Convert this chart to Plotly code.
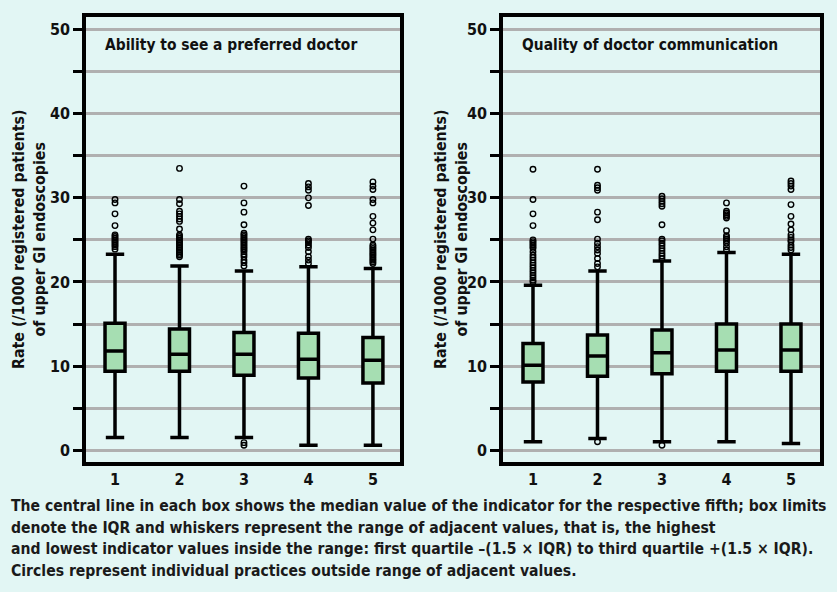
import plotly.graph_objects as go

categories = [1, 2, 3, 4, 5]
tick_labels = ["1", "2", "3", "4", "5"]

# Panel A: Ability to see a preferred doctor
a_q1 = [9.4, 9.4, 8.9, 8.6, 8.0]
a_med = [11.8, 11.4, 11.4, 10.8, 10.7]
a_q3 = [15.1, 14.4, 14.0, 13.9, 13.4]
a_low = [1.5, 1.5, 1.5, 0.6, 0.6]
a_high = [23.3, 21.9, 21.3, 21.8, 21.6]
a_out = [
    [29.8, 29.4, 28.1, 26.7, 25.6, 25.4, 25.2, 25.0, 24.8, 24.6, 24.4, 24.2, 23.9],
    [33.5, 29.8, 29.3, 28.4, 28.1, 27.8, 27.5, 27.2, 26.3, 25.6, 25.4, 25.2, 25.0,
     24.8, 24.6, 24.4, 24.2, 24.0, 23.8, 23.6, 23.4, 23.2, 23.0],
    [31.4, 29.4, 28.3, 26.8, 25.8, 25.6, 25.4, 25.2, 25.0, 24.8, 24.6, 24.4, 24.2,
     24.0, 23.8, 23.6, 23.3, 23.0, 22.6, 22.3, 21.9, 0.9, 0.6],
    [31.7, 31.3, 30.9, 30.0, 29.1, 25.1, 24.9, 24.7, 24.4, 24.1, 23.6, 23.0, 22.6, 22.2],
    [31.9, 31.4, 31.0, 29.8, 29.4, 27.8, 27.0, 26.2, 25.1, 24.4, 24.2, 24.0, 23.8,
     23.6, 23.4, 23.2, 23.0, 22.8, 22.6, 22.4, 22.2],
]

# Panel B: Quality of doctor communication
b_q1 = [8.1, 8.8, 9.1, 9.4, 9.4]
b_med = [10.1, 11.2, 11.6, 11.9, 11.9]
b_q3 = [12.7, 13.7, 14.3, 15.0, 15.0]
b_low = [1.0, 1.4, 1.0, 1.0, 0.8]
b_high = [19.6, 21.3, 22.5, 23.5, 23.3]
b_out = [
    [33.4, 29.8, 28.1, 26.7, 25.0, 24.8, 24.6, 24.4, 24.2, 24.0, 23.6, 23.2, 22.9,
     22.6, 22.3, 22.0, 21.7, 21.4, 21.1, 20.8, 20.5, 20.2, 20.0],
    [33.4, 31.5, 31.2, 30.9, 28.3, 27.4, 25.1, 24.6, 24.2, 23.8, 23.4, 22.8, 22.2, 21.8, 1.0],
    [30.2, 29.9, 29.6, 29.3, 29.0, 26.8, 25.1, 24.9, 24.6, 24.3, 24.0, 23.7, 23.4,
     23.1, 22.8, 0.6],
    [29.4, 28.4, 28.2, 28.0, 27.8, 27.6, 26.1, 25.5, 25.3, 25.1, 24.9, 24.6, 24.2, 23.8],
    [32.0, 31.7, 31.4, 31.0, 29.2, 27.8, 26.9, 26.2, 25.6, 25.3, 25.0, 24.8, 24.4,
     24.1, 23.8],
]

panel_titles = ["Ability to see a preferred doctor", "Quality of doctor communication"]
y_title = "Rate (/1000 registered patients)<br>of upper GI endoscopies"
caption_lines = [
    "The central line in each box shows the median value of the indicator for the respective fifth; box limits",
    "denote the IQR and whiskers represent the range of adjacent values, that is, the highest",
    "and lowest indicator values inside the range: first quartile \u2013(1.5 \u00d7 IQR) to third quartile +(1.5 \u00d7 IQR).",
    "Circles represent individual practices outside range of adjacent values.",
]

BG = "#e2f6f4"
BOXFILL = "#a6deb2"
GRID = "#b0b0b0"
FONT = "DejaVu Sans Condensed, sans-serif"

fig = go.Figure()

panels = [
    ("x", "y", a_q1, a_med, a_q3, a_low, a_high, a_out),
    ("x2", "y2", b_q1, b_med, b_q3, b_low, b_high, b_out),
]
for xa, ya, q1, med, q3, lo, hi, outs in panels:
    fig.add_trace(go.Box(
        x=categories, q1=q1, median=med, q3=q3, lowerfence=lo, upperfence=hi,
        boxpoints=False, fillcolor=BOXFILL, line=dict(color="black", width=3.5),
        width=0.31, whiskerwidth=0.92, xaxis=xa, yaxis=ya, showlegend=False,
    ))
    ox, oy = [], []
    for c, vals in zip(categories, outs):
        for v in vals:
            ox.append(c)
            oy.append(v)
    fig.add_trace(go.Scatter(
        x=ox, y=oy, mode="markers", xaxis=xa, yaxis=ya, showlegend=False,
        marker=dict(symbol="circle-open", size=5.5, color="black", line=dict(width=1.4, color="black")),
    ))

ytickvals = [0, 5, 10, 15, 20, 25, 30, 35, 40, 45, 50]
yticktext = [str(v) if v % 10 == 0 else "" for v in ytickvals]

yaxis_common = dict(
    range=[-1.4, 51.5], tickvals=ytickvals, ticktext=yticktext,
    showgrid=True, gridcolor=GRID, gridwidth=3, zeroline=False,
    showline=True, linecolor="black", linewidth=3.5, mirror=True,
    ticks="outside", ticklen=9, tickwidth=3, tickcolor="black",
    tickfont=dict(family=FONT, size=16, color="#111", weight="bold"),
    domain=[1 - 462 / 592, 1 - 17 / 592],
)
xaxis_common = dict(
    tickvals=categories, ticktext=tick_labels, showgrid=False, zeroline=False,
    showline=True, linecolor="black", linewidth=3.5, mirror=True, ticks="",
    tickfont=dict(family=FONT, size=16, color="#111", weight="bold"),
)

fig.update_layout(
    width=837, height=592,
    margin=dict(l=0, r=0, t=0, b=0),
    paper_bgcolor=BG, plot_bgcolor=BG,
    xaxis=dict(xaxis_common, range=[0.55, 5.42], domain=[86 / 837, 400 / 837], anchor="y"),
    yaxis=dict(yaxis_common, anchor="x"),
    xaxis2=dict(xaxis_common, range=[0.535, 5.45], domain=[503 / 837, 820 / 837], anchor="y2"),
    yaxis2=dict(yaxis_common, anchor="x2"),
)

annotations = []
for i, (xa, ya) in enumerate([("x", "y"), ("x2", "y2")]):
    annotations.append(dict(
        text=panel_titles[i], xref=xa + " domain", yref=ya + " domain",
        x=0.054, y=0.937, xanchor="left", yanchor="middle", showarrow=False,
        font=dict(family=FONT, size=15.4, color="#111", weight="bold"),
    ))
for xp in [29 / 837, 451 / 837]:
    annotations.append(dict(
        text=y_title, xref="paper", yref="paper", x=xp, y=1 - 240 / 592,
        xanchor="center", yanchor="middle", textangle=-90, showarrow=False,
        font=dict(family=FONT, size=15.8, color="#111", weight="bold"),
    ))
for line, yc in zip(caption_lines, [506, 527.5, 549, 571]):
    annotations.append(dict(
        text=line, xref="paper", yref="paper", x=9 / 837, y=1 - yc / 592,
        xanchor="left", yanchor="middle", align="left", showarrow=False,
        font=dict(family=FONT, size=15.6, color="#1a1a1a", weight="bold"),
    ))
fig.update_layout(annotations=annotations)

fig.write_html(
    "out.html",
    config={"displayModeBar": False},
    post_script="document.body.style.margin='0';document.body.style.background='" + BG + "';",
)
